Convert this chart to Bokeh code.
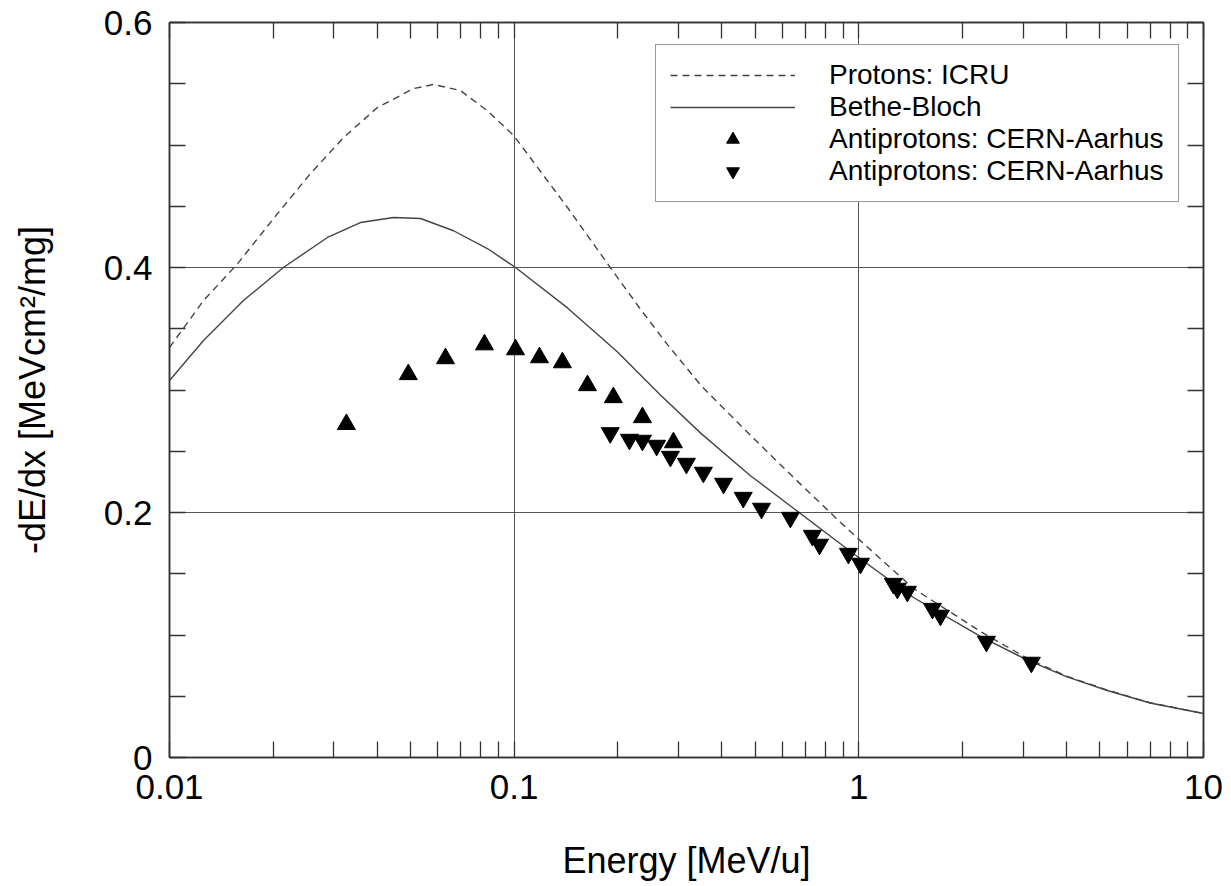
from bokeh.plotting import figure
from bokeh.models import (FixedTicker, LinearAxis, LogAxis, Legend, LegendItem,
                          Range1d)
from bokeh.embed import file_html
from bokeh.resources import INLINE

# ---------------- data ----------------
icru_E = [0.01, 0.01255, 0.01575, 0.02058, 0.02565, 0.03198, 0.0401, 0.0510,
          0.0583, 0.0698, 0.0836, 0.0995, 0.1428, 0.190, 0.2325, 0.2785, 0.35,
          0.4848, 0.65, 0.884, 1.024, 1.44, 2.25, 3.1, 4.0, 5.26, 7.0, 10.0]
icru_val = [0.3347, 0.373, 0.403, 0.444, 0.4767, 0.506, 0.5306, 0.546,
            0.5494, 0.5445, 0.528, 0.508, 0.449, 0.400, 0.366, 0.337, 0.303,
            0.263, 0.228, 0.192, 0.1755, 0.138, 0.103, 0.0805, 0.0665, 0.0550,
            0.0447, 0.0359]
bb_E = [0.01, 0.01255, 0.01639, 0.0214, 0.02873, 0.0358, 0.0447, 0.0535,
        0.0667, 0.0836, 0.1009, 0.1428, 0.1995, 0.2657, 0.347, 0.4848, 0.646,
        0.884, 1.024, 1.44, 2.28, 3.1, 4.0, 5.26, 7.0, 10.0]
bb_val = [0.3078, 0.3404, 0.373, 0.400, 0.4245, 0.4367, 0.4408, 0.440,
          0.430, 0.4155, 0.400, 0.367, 0.331, 0.296, 0.265, 0.230, 0.2035,
          0.1745, 0.161, 0.1306, 0.098, 0.0792, 0.066, 0.0547, 0.0445, 0.0359]
up_E = [0.0326, 0.0493, 0.0632, 0.0820, 0.1009, 0.1184, 0.138, 0.1632, 0.194,
        0.2356, 0.2898]
up_val = [0.272, 0.3127, 0.3257, 0.337, 0.333, 0.3265, 0.3224, 0.3037, 0.2939,
          0.2776, 0.2571]
down_E = [0.190, 0.216, 0.2356, 0.259, 0.284, 0.316, 0.354, 0.405, 0.462, 0.522,
          0.633, 0.733, 0.769, 0.933, 1.011, 1.259, 1.294, 1.383, 1.635, 1.725,
          2.345, 3.167]
down_val = [0.265, 0.2596, 0.2588, 0.2547, 0.2457, 0.240, 0.2327, 0.2237, 0.2122,
            0.2033, 0.1959, 0.1812, 0.1739, 0.1665, 0.1584, 0.142, 0.138, 0.1355,
            0.1216, 0.116, 0.0947, 0.0776]

x_ticks = [0.01, 0.1, 1, 10]
x_tick_labels = ["0.01", "0.1", "1", "10"]
y_ticks = [0, 0.2, 0.4, 0.6]
y_tick_labels = ["0", "0.2", "0.4", "0.6"]
y_minor = [0.05, 0.1, 0.15, 0.25, 0.3, 0.35, 0.45, 0.5, 0.55]
x_minor = [m * d for d in (0.01, 0.1, 1) for m in range(2, 10)]

legend_labels = ["Protons: ICRU", "Bethe-Bloch",
                 "Antiprotons: CERN-Aarhus", "Antiprotons: CERN-Aarhus"]

FONT = "Liberation Sans"
AX = "#333333"

p = figure(width=1231, height=886, x_axis_type="log",
           x_range=Range1d(0.01, 10), y_range=Range1d(0, 0.6),
           output_backend="svg", toolbar_location=None,
           min_border_left=169, min_border_right=28,
           min_border_top=22, min_border_bottom=129)
p.outline_line_color = AX
p.outline_line_width = 1.5

xt = FixedTicker(ticks=x_ticks, minor_ticks=x_minor)
yt = FixedTicker(ticks=y_ticks, minor_ticks=y_minor)


def style_axis(ax, labels=True):
    ax.axis_line_color = AX
    ax.axis_line_width = 1.5
    ax.major_tick_line_color = AX
    ax.minor_tick_line_color = AX
    ax.major_tick_line_width = 1.3
    ax.minor_tick_line_width = 1.3
    ax.major_tick_in = 16
    ax.major_tick_out = 0
    ax.minor_tick_in = 16
    ax.minor_tick_out = 0
    ax.major_label_text_font = FONT
    ax.major_label_text_color = "black"
    ax.major_label_text_font_size = "35px" if labels else "0px"
    ax.major_label_standoff = 17 if labels else 0
    ax.axis_label_text_font = FONT
    ax.axis_label_text_font_size = "36px"
    ax.axis_label_text_font_style = "normal"
    ax.axis_label_text_color = "black"


xa = p.xaxis[0]
xa.ticker = xt
xa.major_label_overrides = dict(zip(x_ticks, x_tick_labels))
xa.axis_label = "Energy [MeV/u]"
style_axis(xa)
xa.axis_label_standoff = 38

ya = p.yaxis[0]
ya.ticker = yt
ya.major_label_overrides = dict(zip(y_ticks, y_tick_labels))
ya.axis_label = "-dE/dx [MeVcm\u00b2/mg]"
style_axis(ya)
ya.axis_label_standoff = 48

top = LogAxis(ticker=xt)
style_axis(top, labels=False)
top.major_label_overrides = {t: "" for t in x_ticks}
p.add_layout(top, "above")
right = LinearAxis(ticker=yt)
style_axis(right, labels=False)
right.major_label_overrides = {t: "" for t in y_ticks}
p.add_layout(right, "right")

for g in (p.xgrid[0], p.ygrid[0]):
    g.grid_line_color = "#555555"
    g.grid_line_width = 1
p.xgrid[0].ticker = xt
p.ygrid[0].ticker = yt

r_icru = p.line(icru_E, icru_val, line_color="#444444", line_width=1.4,
                line_dash="7 5")
r_bb = p.line(bb_E, bb_val, line_color="#444444", line_width=1.4)
r_up = p.scatter(up_E, up_val, marker="triangle", size=18,
                 fill_color="black", line_color="black")
r_down = p.scatter(down_E, down_val, marker="inverted_triangle", size=18,
                   fill_color="black", line_color="black")

legend = Legend(items=[LegendItem(label=legend_labels[0], renderers=[r_icru]),
                       LegendItem(label=legend_labels[1], renderers=[r_bb]),
                       LegendItem(label=legend_labels[2], renderers=[r_up]),
                       LegendItem(label=legend_labels[3], renderers=[r_down])],
                location=(486, 555))
legend.label_text_font = FONT
legend.label_text_font_size = "28px"
legend.label_text_color = "black"
legend.glyph_width = 125
legend.glyph_height = 32
legend.label_height = 28
legend.spacing = 0
legend.padding = 14
legend.margin = 0
legend.label_standoff = 34
legend.border_line_color = AX
legend.border_line_width = 1.3
legend.background_fill_alpha = 1
p.add_layout(legend)

open("out.html", "w").write(file_html(p, INLINE))
